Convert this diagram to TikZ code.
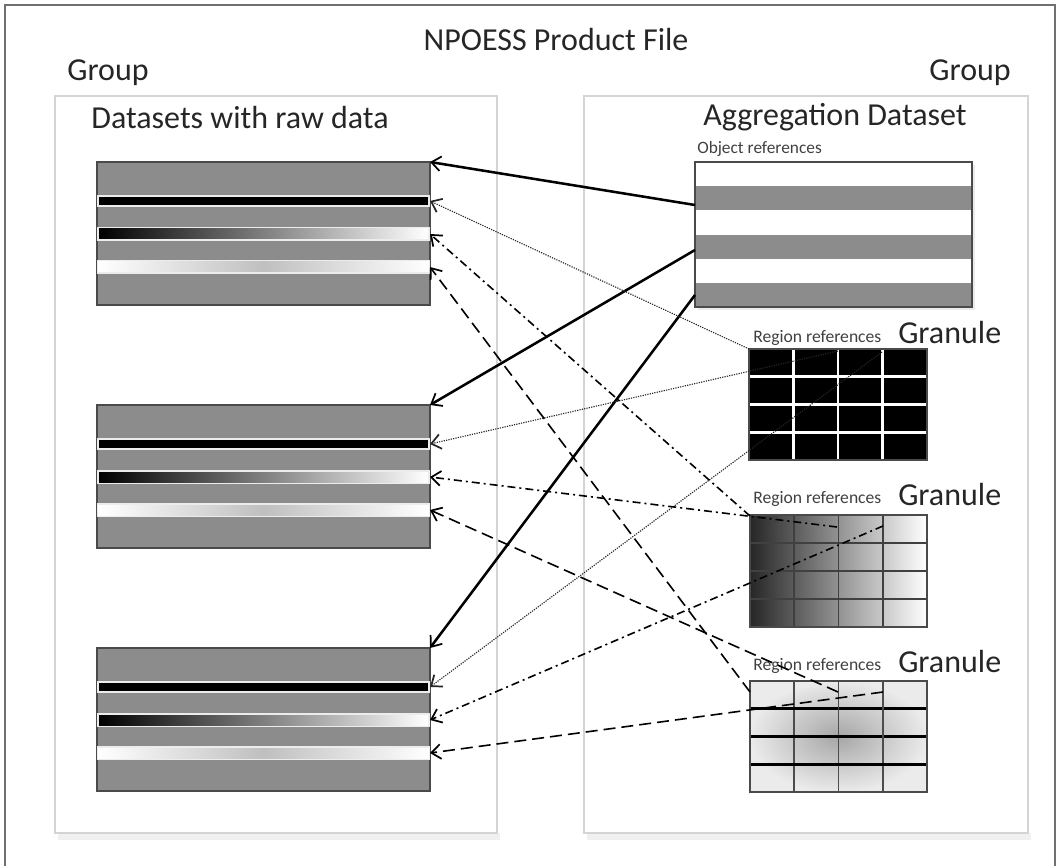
\documentclass[tikz,border=0pt]{standalone}
\usepackage{fontspec}
\setmainfont{Carlito}
\usetikzlibrary{arrows.meta}
\definecolor{boxgray}{HTML}{8C8C8C}
\definecolor{grpline}{HTML}{D4D4D4}
\definecolor{frameline}{HTML}{707070}
\definecolor{edge}{HTML}{4A4A4A}
\tikzset{
  bigtext/.style={font=\fontsize{24}{28}\selectfont, text=black!85, inner sep=0pt},
  smalltext/.style={font=\fontsize{13}{15}\selectfont, text=black!75, inner sep=0pt},
  regtext/.style={font=\fontsize{13.2}{15}\selectfont, text=black!75, inner sep=0pt},
  tip/.style={-{Straight Barb[length=7pt,width=11pt,line width=1.3pt]}},
  solidref/.style={tip, line width=1.9pt},
  dotref/.style={tip, line width=0.85pt, dash pattern=on 0.9pt off 0.9pt, draw=black!85},
  dashdotref/.style={tip, line width=1.2pt, dash pattern=on 6pt off 3pt on 1.5pt off 3pt},
  dashref/.style={tip, line width=1.2pt, dash pattern=on 9pt off 4.5pt},
  grpbox/.style={draw=grpline, line width=1.6pt},
}
\begin{document}
\begin{tikzpicture}[x=0.75pt,y=-0.75pt]
\useasboundingbox (0,0) rectangle (1060,866);
% outer frame
\draw[frameline, line width=1.1pt] (5,880) -- (5,5) -- (1055,5) -- (1055,880);
% group boxes with faint shadow
\fill[black!6] (58,833) rectangle (500,840);
\fill[black!6] (587,833) rectangle (1031,840);
\draw[grpbox] (55,96) rectangle (497,833);
\draw[grpbox] (584,96) rectangle (1028,833);
% texts
\node[bigtext] (title) at (556,40) {NPOESS Product File};
\node[bigtext] (grpL) at (108,73) {Group};
\node[bigtext, anchor=east] (grpR) at (1011,73) {Group};
\node[bigtext] (dstitle) at (240,118) {Datasets with raw data};
\node[bigtext] (aggtitle) at (835,117) {Aggregation Dataset};
\node[smalltext, anchor=west] (objref) at (697,149) {Object references};
% dataset boxes
\foreach \n/\t in {1/162,2/405,3/648}{
  \fill[boxgray] (97,\t) rectangle (430,\t+143);
  \draw[edge, line width=0.9pt] (97,\t) rectangle (430,\t+143);
  % black stripe
  \fill[white!85!gray] (97,\t+33) rectangle (430,\t+45);
  \fill[black] (99,\t+35) rectangle (428,\t+43);
  % gradient stripe
  \fill[white!85!gray] (97,\t+65) rectangle (430,\t+79);
  \shade[left color=black, right color=white] (99,\t+67) rectangle (428,\t+77);
  % white stripe
  \fill[white!85!gray] (97,\t+98) rectangle (430,\t+112);
  \shade[left color=white, right color=white, middle color=black!25] (98,\t+100) rectangle (429,\t+110);
  \coordinate (ds\n-top) at (430,\t);
  \coordinate (ds\n-s1) at (430,\t+39);
  \coordinate (ds\n-s2) at (430,\t+72);
  \coordinate (ds\n-s3) at (430,\t+105);
}
% aggregation dataset
\fill[black!8] (698,165) rectangle (975,310);
\foreach \i in {0,2,4}{
  \fill[white] (695,162+24.2*\i) rectangle (972,162+24.2*\i+24.2);
  \fill[boxgray] (695,162+24.2*\i+24.2) rectangle (972,162+24.2*\i+48.4);
}
\draw[edge, line width=0.8pt] (695,162) rectangle (972,307);
\coordinate (agg1) at (695,205);
\coordinate (agg2) at (695,250);
\coordinate (agg3) at (695,295);
% granule 1 (black)
\fill[black] (749,349) rectangle (927,460);
\foreach \k in {1,2,3}{
  \draw[white, line width=2.2pt] (749+44.5*\k,349) -- (749+44.5*\k,460);
  \draw[white, line width=2.2pt] (749,349+27.75*\k) -- (927,349+27.75*\k);
}
\draw[edge, line width=0.8pt] (749,349) rectangle (927,460);
\node[regtext, anchor=base west] (reg1) at (753,342) {Region references};
\node[bigtext, anchor=base west] (gran1) at (898,344) {Granule};
\coordinate (g1a) at (749,349);
\coordinate (g1b) at (838,351);
\coordinate (g1c) at (882,352);
% granule 2 (horizontal gradient)
\shade[left color=black!85, right color=white] (750,515) rectangle (927,627);
\foreach \k in {1,2,3}{
  \draw[black!75, line width=1.4pt] (750+44.25*\k,515) -- (750+44.25*\k,627);
  \draw[black!75, line width=1.4pt] (750,515+28*\k) -- (927,515+28*\k);
}
\draw[edge, line width=1pt] (750,515) rectangle (927,627);
\node[regtext, anchor=base west] (reg2) at (753,503) {Region references};
\node[bigtext, anchor=base west] (gran2) at (898,505) {Granule};
\coordinate (g2a) at (750,516);
\coordinate (g2b) at (837,527);
\coordinate (g2c) at (883,526);
% granule 3 (radial)
\shade[inner color=black!35, outer color=white!92!black] (750,681) rectangle (927,792);
\foreach \k in {1,2,3}{
  \draw[black!70, line width=1.4pt] (750+44.25*\k,681) -- (750+44.25*\k,792);
  \draw[black, line width=2.2pt] (750,681+27.75*\k) -- (927,681+27.75*\k);
}
\draw[edge, line width=1pt] (750,681) rectangle (927,792);
\node[regtext, anchor=base west] (reg3) at (753,670) {Region references};
\node[bigtext, anchor=base west] (gran3) at (898,672) {Granule};
\coordinate (g3a) at (750,692);
\coordinate (g3b) at (838,692);
\coordinate (g3c) at (883,692);
% connectors: object references
\draw[solidref] (agg1) -- (ds1-top);
\draw[solidref] (agg2) -- (ds2-top);
\draw[solidref] (agg3) -- (ds3-top);
% region references granule 1 (dotted)
\draw[dotref] (g1a) -- (ds1-s1);
\draw[dotref] (g1b) -- (ds2-s1);
\draw[dotref] (g1c) -- (ds3-s1);
% granule 2 (dash-dot)
\draw[dashdotref] (g2a) -- (ds1-s2);
\draw[dashdotref] (g2b) -- (ds2-s2);
\draw[dashdotref] (g2c) -- (ds3-s2);
% granule 3 (dashed)
\draw[dashref] (g3a) -- (ds1-s3);
\draw[dashref] (g3b) -- (ds2-s3);
\draw[dashref] (g3c) -- (ds3-s3);
\end{tikzpicture}
\end{document}
